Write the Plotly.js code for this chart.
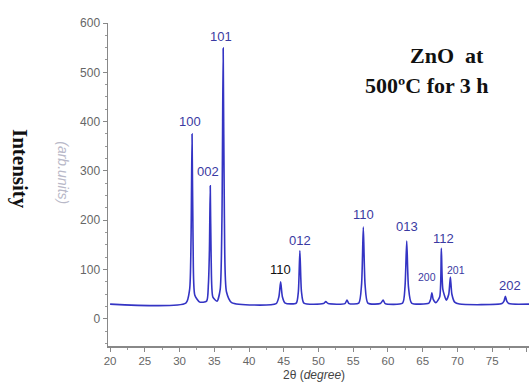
<!DOCTYPE html>
<html><head><meta charset="utf-8">
<script src="https://cdn.plot.ly/plotly-3.0.1.min.js"></script>
<style>html,body{margin:0;padding:0;background:#fff;}#chart{width:529px;height:385px;}</style>
</head><body><div id="chart"></div>
<script>
const twoTheta = [20,30.9,31.45,31.65,31.8,31.95,32.2,32.9,33.9,34.15,34.3,34.42,34.55,34.8,35.4,35.85,36.1,36.28,36.45,36.75,37.5,
  43.9,44.3,44.55,44.8,45.2,46.8,47.1,47.32,47.55,47.9,50.7,51.05,51.4,53.8,54.1,54.4,55.8,56.2,56.45,56.7,57.1,58.9,59.3,59.6,
  62.1,62.45,62.7,62.95,63.4,65.9,66.15,66.32,66.5,66.9,67.45,67.68,67.9,68.4,68.75,68.98,69.2,69.6,70.3,76.4,76.7,76.9,77.1,77.4,80.3];
const intensity = [30,32,60,160,375,150,48,34,36,70,140,270,120,44,36,60,200,549,210,55,33,
  31,45,75,45,32,32,55,138,55,32,31,35,31,31,38,31,32,70,186,70,32,31,38,31,
  32,65,158,65,32,32,40,53,40,33,45,143,60,38,50,85,50,34,30,31,36,46,36,31,30];

const peakLabels = ["100","101","002","110","012","110","013","200","201","112","202"];
const labelX = [31.5,36.0,34.15,44.6,47.4,56.5,62.7,65.6,69.75,68.05,77.55];
const labelY = [400,572,298,101,159,212,187,85,100,164,67];
const labelColors = ["#3a3aa2","#3a3aa2","#3a3aa2","#111111","#3a3aa2","#3a3aa2","#3a3aa2","#3a3aa2","#3a3aa2","#3a3aa2","#3a3aa2"];
const labelSizes = [13,13,13,13,13,13,13,10.5,10.5,13,13];

const xTicks = [20,25,30,35,40,45,50,55,60,65,70,75,80];
const yTicks = [0,100,200,300,400,500,600];

const serif = 'Liberation Serif, Times New Roman, serif';
const sans = 'Liberation Sans, Arial, sans-serif';
const annotations = peakLabels.map((t,i)=>({
  text:t, x:labelX[i], y:labelY[i], xref:'x', yref:'y', showarrow:false, xanchor:'center', yanchor:'middle',
  font:{family:sans, size:labelSizes[i], color:labelColors[i]}
}));
annotations.push({text:'<b>ZnO  at</b>', xref:'paper', yref:'paper', x:0.805, y:0.90, xanchor:'center', yanchor:'middle', showarrow:false,
  font:{family:serif, size:22, color:'#111'}});
annotations.push({text:'<b>500ºC for 3 h</b>', xref:'paper', yref:'paper', x:0.758, y:0.808, xanchor:'center', yanchor:'middle', showarrow:false,
  font:{family:serif, size:22, color:'#111'}});
annotations.push({text:'<b>Intensity</b>', xref:'paper', yref:'paper', x:-0.209, y:0.548, xanchor:'center', yanchor:'middle', showarrow:false, textangle:90,
  font:{family:serif, size:21, color:'#111'}});
annotations.push({text:'<i>(arb.units)</i>', xref:'paper', yref:'paper', x:-0.107, y:0.535, xanchor:'center', yanchor:'middle', showarrow:false, textangle:90,
  font:{family:sans, size:14, color:'#b8b8c8'}});
annotations.push({text:'2θ (<i>degree</i>)', xref:'paper', yref:'paper', x:0.49, y:-0.09, xanchor:'center', yanchor:'middle', showarrow:false,
  font:{family:sans, size:12, color:'#444'}});

const data = [{x:twoTheta, y:intensity, type:'scatter', mode:'lines',
  line:{color:'#3434c4', width:1.6, shape:'spline', smoothing:0.6}, hoverinfo:'skip'}];

const layout = {
  width:529, height:385,
  margin:{l:108, r:0, t:23, b:39},
  paper_bgcolor:'#fff', plot_bgcolor:'#fff',
  showlegend:false,
  xaxis:{range:[19.7,80.3], tickvals:xTicks, ticktext:xTicks.map(String), showgrid:false, zeroline:false,
    showline:true, linecolor:'#888', linewidth:1.5, ticks:'outside', ticklen:4, tickcolor:'#888',
    minor:{dtick:2.5, ticks:'outside', ticklen:2, tickcolor:'#999'},
    tickfont:{family:sans, size:11.5, color:'#666'}},
  yaxis:{range:[-55,600], tickvals:yTicks, ticktext:yTicks.map(String), showgrid:false, zeroline:false,
    showline:true, linecolor:'#888', linewidth:1.5, ticks:'outside', ticklen:4, tickcolor:'#888',
    minor:{dtick:25, ticks:'outside', ticklen:2, tickcolor:'#999'},
    tickfont:{family:sans, size:12, color:'#666'}},
  annotations:annotations
};
Plotly.newPlot('chart', data, layout, {staticPlot:true, displayModeBar:false});
</script></body></html>
